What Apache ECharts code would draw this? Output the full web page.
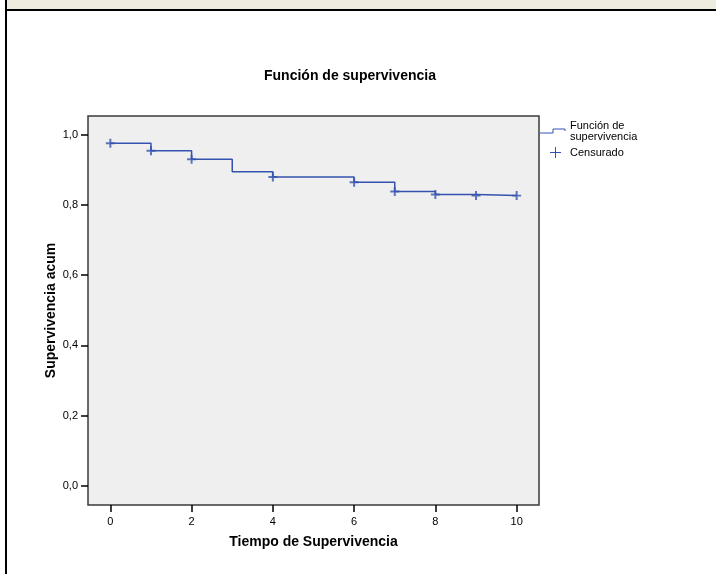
<!DOCTYPE html>
<html>
<head>
<meta charset="utf-8">
<script src="https://cdn.jsdelivr.net/npm/echarts@6/dist/echarts.min.js"></script>
<style>
html,body{margin:0;padding:0;background:#fff;}
#c{width:716px;height:574px;}
</style>
</head>
<body>
<div id="c"></div>
<script>
// Data
const stepTimes = [0, 1, 2, 3, 4, 6, 7, 8, 9, 10];
const stepSurvival = [0.976, 0.955, 0.931, 0.895, 0.880, 0.865, 0.839, 0.830, 0.827, 0.827];
const censorTimes = [0, 1, 2, 4, 6, 7, 8, 9, 10];
const censorSurvival = [0.976, 0.955, 0.931, 0.880, 0.865, 0.839, 0.830, 0.827, 0.827];
const xTicks = [0, 2, 4, 6, 8, 10];
const yTicks = [0, 0.2, 0.4, 0.6, 0.8, 1.0];

const FONT = '"Liberation Sans", Arial, sans-serif';
const BLUE = '#3553AE';
const crossPath = 'path://M3.9,0 H6.1 V3.9 H10 V6.1 H6.1 V10 H3.9 V6.1 H0 V3.9 H3.9 Z';

const chart = echarts.init(document.getElementById('c'), null, {renderer: 'canvas'});

const stepData = stepTimes.map((t, i) => [t, stepSurvival[i]]);
const censorData = censorTimes.map((t, i) => [t, censorSurvival[i]]);

chart.setOption({
  backgroundColor: '#ffffff',
  animation: false,
  textStyle: {fontFamily: FONT},
  title: {
    text: 'Función de supervivencia',
    left: 259, top: 64,
    textStyle: {fontSize: 14, fontWeight: 'bold', color: '#000', fontFamily: FONT}
  },
  grid: {
    left: 88, top: 116, right: 177, bottom: 69,
    show: true, backgroundColor: '#EFEFEF', borderColor: '#3a3a3a', borderWidth: 1.5
  },
  xAxis: {
    type: 'value', min: -0.55, max: 10.55,
    name: 'Tiempo de Supervivencia', nameLocation: 'middle', nameGap: 30,
    nameTextStyle: {fontSize: 14, fontWeight: 'bold', color: '#000', fontFamily: FONT},
    axisLine: {show: false, onZero: false},
    splitLine: {show: false},
    axisTick: {show: true, inside: false, length: 7, customValues: xTicks, lineStyle: {color: '#000', width: 1.5}},
    axisLabel: {customValues: xTicks, margin: 11, fontSize: 11, color: '#000', fontFamily: FONT}
  },
  yAxis: {
    type: 'value', min: -0.055, max: 1.054,
    name: 'Supervivencia acum', nameLocation: 'middle', nameGap: 30, nameRotate: 90,
    nameMoveOverlap: false,
    nameTextStyle: {fontSize: 14, fontWeight: 'bold', color: '#000', fontFamily: FONT},
    axisLine: {show: false, onZero: false},
    splitLine: {show: false},
    axisTick: {show: true, inside: false, length: 7, customValues: yTicks, lineStyle: {color: '#000', width: 1.5}},
    axisLabel: {customValues: yTicks, margin: 10, fontSize: 11, color: '#000', fontFamily: FONT,
      formatter: v => v.toFixed(1).replace('.', ',')}
  },
  series: [
    {
      name: 'Función de supervivencia', type: 'line', step: 'end', data: stepData,
      showSymbol: false, lineStyle: {color: BLUE, width: 1.5}, itemStyle: {color: BLUE}, z: 3
    },
    {
      name: 'Censurado', type: 'scatter', data: censorData,
      symbol: crossPath, symbolSize: 9, itemStyle: {color: BLUE}, z: 4
    }
  ],
  graphic: [
    {type: 'rect', shape: {x: 6, y: 0, width: 710, height: 10}, style: {fill: '#EEEBDF'}, silent: true},
    {type: 'line', shape: {x1: 5, y1: 10, x2: 716, y2: 10}, style: {stroke: '#000', lineWidth: 2}, silent: true},
    {type: 'line', shape: {x1: 6, y1: 0, x2: 6, y2: 574}, style: {stroke: '#000', lineWidth: 2}, silent: true},
    // legend
    {type: 'polyline', shape: {points: [[540, 133], [553, 133], [553, 129], [565, 129], [565, 131]]},
      style: {stroke: BLUE, lineWidth: 1, fill: null}, silent: true},
    {type: 'text', left: 570, top: 120, style: {text: 'Función de\nsupervivencia', fontSize: 11, lineHeight: 11, fill: '#000', font: '11px ' + FONT}, silent: true},
    {type: 'line', shape: {x1: 550, y1: 152.5, x2: 561, y2: 152.5}, style: {stroke: BLUE, lineWidth: 1}, silent: true},
    {type: 'line', shape: {x1: 555.5, y1: 147, x2: 555.5, y2: 158}, style: {stroke: BLUE, lineWidth: 1}, silent: true},
    {type: 'text', left: 570, top: 147, style: {text: 'Censurado', fill: '#000', font: '11px ' + FONT}, silent: true}
  ]
});
</script>
</body>
</html>
